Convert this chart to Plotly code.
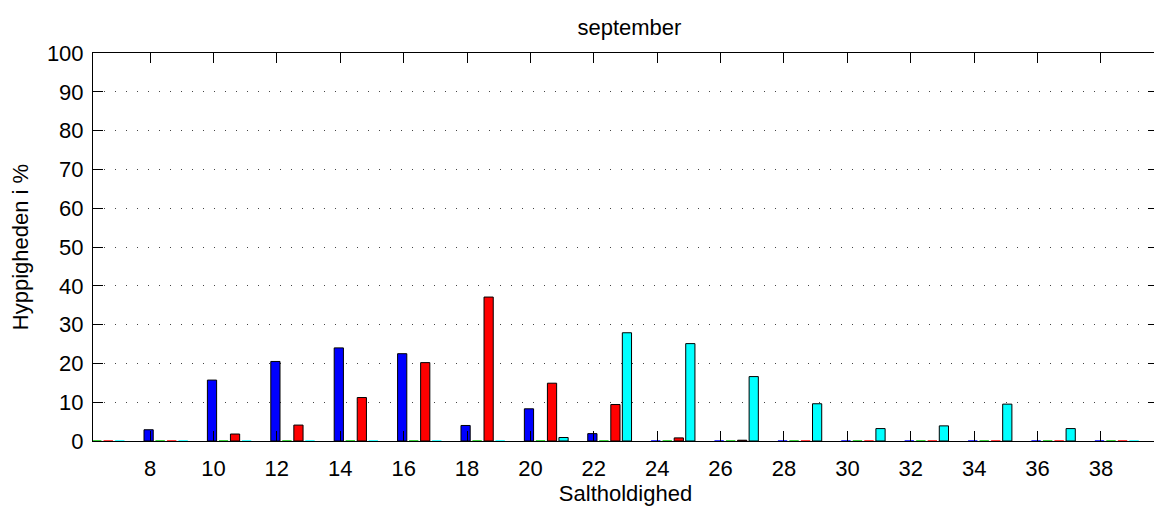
import plotly.graph_objects as go

# Saltholdighed-klasser (gruppecentre) og hyppigheder i %
salt = [6.5, 8.5, 10.5, 12.5, 14.5, 16.5, 18.5, 20.5, 22.5,
        24.5, 26.5, 28.5, 30.5, 32.5, 34.5, 36.5, 38.5]
blaa = [0, 2.9, 15.7, 20.5, 24.0, 22.5, 4.0, 8.3, 1.9,
        0, 0, 0, 0, 0, 0, 0, 0]
groen = [0] * 17
roed = [0, 0, 1.8, 4.1, 11.2, 20.2, 37.1, 14.9, 9.4,
        0.8, 0.2, 0, 0, 0, 0, 0, 0]
cyan = [0, 0, 0, 0, 0, 0, 0, 0.9, 27.9,
        25.1, 16.6, 9.6, 3.2, 3.9, 9.5, 3.2, 0]

xticks = list(range(8, 40, 2))
yticks = list(range(0, 101, 10))

font = "Liberation Sans, Arial, Helvetica, sans-serif"

fig = go.Figure()
for vals, col in [(blaa, "#0000ff"), (groen, "#00c000"), (roed, "#ff0000"), (cyan, "#00ffff")]:
    # soejler med hoejde 0 tegnes kun som en svag farvet streg
    kant = ["black" if v > 0 else col for v in vals]
    fig.add_trace(go.Bar(x=salt, y=vals, marker=dict(color=col, line=dict(color=kant, width=1)),
                         showlegend=False))

# siden har 8px body-margin, derfor er figuren lidt mindre end vinduet
fig.update_layout(
    width=1154, height=499,
    barmode="group", bargap=0.273, bargroupgap=0.2,
    paper_bgcolor="white", plot_bgcolor="white",
    margin=dict(l=85, r=4, t=45, b=66),
    font=dict(family=font, size=22, color="black"),
    title=dict(text="september", x=0.5385, xanchor="center", y=0.962, yanchor="middle",
               font=dict(size=22)),
)
fig.update_xaxes(
    range=[6.2, 39.8], tickvals=xticks, ticks="inside", ticklen=10, tickcolor="black",
    showline=True, linecolor="black", linewidth=1, mirror="ticks", showgrid=False,
    zeroline=False, ticklabelstandoff=8,
    title=dict(text="Saltholdighed", standoff=2, font=dict(size=22)),
)
fig.update_yaxes(
    range=[0, 100], tickvals=yticks, ticks="inside", ticklen=10, tickcolor="black",
    showline=True, linecolor="black", linewidth=1, mirror="ticks",
    showgrid=True, gridcolor="#444", gridwidth=1, griddash="1px,10px",
    zeroline=False, ticklabelstandoff=4,
    title=dict(text="Hyppigheden i %", standoff=12, font=dict(size=22)),
)

fig.write_html("out.html")
